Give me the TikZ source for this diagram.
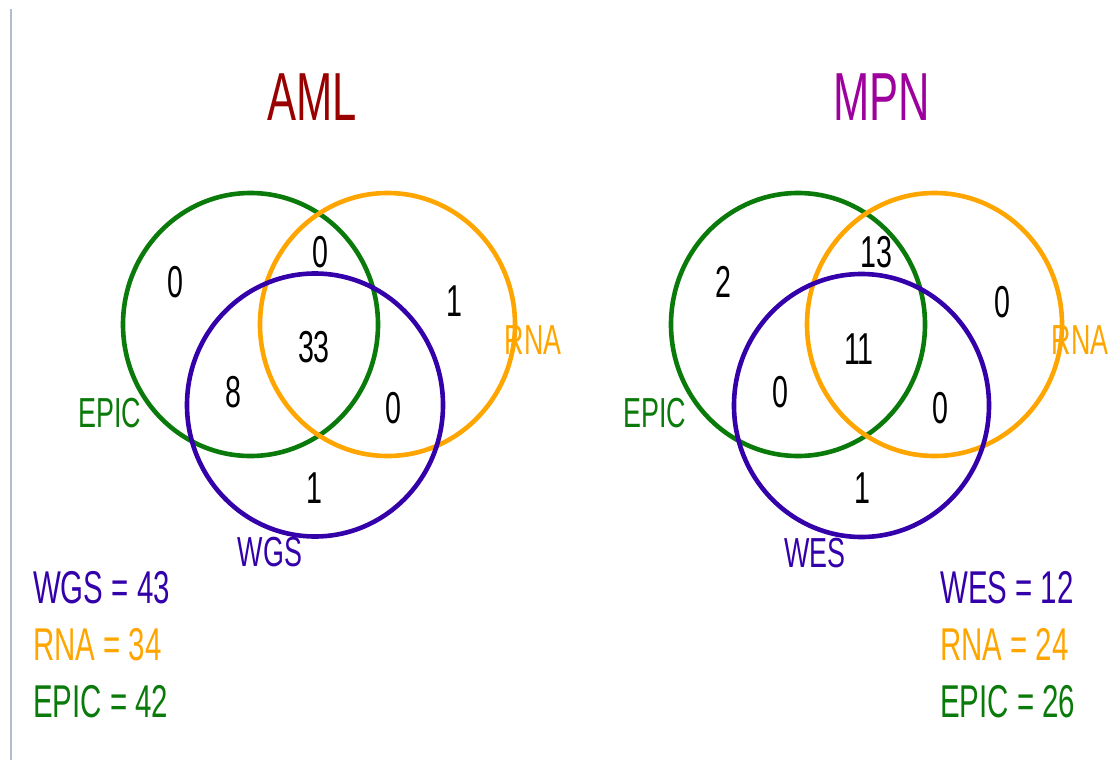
\documentclass[tikz,border=0pt]{standalone}
\usepackage{fontspec}
\setmainfont[FakeStretch=0.64]{Liberation Sans}
\definecolor{setgreen}{HTML}{0A7A0A}
\definecolor{setorange}{HTML}{FFA500}
\definecolor{setpurple}{HTML}{3300AA}
\definecolor{amlred}{HTML}{990000}
\definecolor{mpnmag}{HTML}{9E009E}
\definecolor{rulegray}{HTML}{B4BCCC}
\tikzset{
  setring/.style={line width=4.6pt},
  count/.style={anchor=base, inner sep=0pt, font=\fontsize{44.7}{50}\selectfont},
  setlabel/.style={anchor=base, inner sep=0pt, font=\fontsize{42}{48}\selectfont},
  legend/.style={anchor=base west, inner sep=0pt, font=\fontsize{46}{52}\selectfont},
  heading/.style={anchor=base, inner sep=0pt, font=\fontsize{68}{74}\selectfont},
}
\begin{document}
\begin{tikzpicture}[x=1pt, y=-1pt]
\useasboundingbox (0,0) rectangle (1116,760);
\draw[rulegray, line width=1.8pt] (10.7,9) -- (10.7,760);

% ---------- AML ----------
\node[heading, text=amlred] (amlT) at (312,120) {AML};
\draw[setring, setgreen]  (250.5,324.5) ellipse [x radius=127.5, y radius=131.5];
\draw[setring, setorange] (387.5,324.5) ellipse [x radius=127.5, y radius=131.5];
\draw[setring, setpurple] (315,405) ellipse [x radius=128, y radius=131.5];
\node[count] (a1) at (175,297) {0};
\node[count] (a2) at (320,267) {0};
\node[count] (a3) at (454,316) {1};
\node[count] (a4) at (314,362) {33};
\node[count] (a5) at (233,407) {8};
\node[count] (a6) at (393,423) {0};
\node[count] (a7) at (314,503) {1};
\node[setlabel, text=setgreen]  (aE) at (110,427) {EPIC};
\node[setlabel, text=setorange] (aR) at (533,354) {RNA};
\node[setlabel, text=setpurple] (aW) at (270,566) {WGS};
\node[legend, text=setpurple] (aL1) at (33,603) {WGS = 43};
\node[legend, text=setorange] (aL2) at (33,660) {RNA = 34};
\node[legend, text=setgreen]  (aL3) at (33,717) {EPIC = 42};

% ---------- MPN ----------
\node[heading, text=mpnmag] (mpnT) at (882,120) {MPN};
\draw[setring, setgreen]  (798,324.5) ellipse [x radius=127, y radius=131.5];
\draw[setring, setorange] (934.5,324.5) ellipse [x radius=127.5, y radius=131.5];
\draw[setring, setpurple] (861.5,405.5) ellipse [x radius=127.5, y radius=131.5];
\node[count] (m1) at (723,297) {2};
\node[count] (m2) at (876,267) {13};
\node[count] (m3) at (1002,317) {0};
\node[count] (m4) at (859,364) {11};
\node[count] (m5) at (780,407) {0};
\node[count] (m6) at (940,423) {0};
\node[count] (m7) at (862,503) {1};
\node[setlabel, text=setgreen]  (mE) at (655,427) {EPIC};
\node[setlabel, text=setorange] (mR) at (1080,354) {RNA};
\node[setlabel, text=setpurple] (mW) at (815,567) {WES};
\node[legend, text=setpurple] (mL1) at (940,603) {WES = 12};
\node[legend, text=setorange] (mL2) at (940,660) {RNA = 24};
\node[legend, text=setgreen]  (mL3) at (940,717) {EPIC = 26};
\end{tikzpicture}
\end{document}
